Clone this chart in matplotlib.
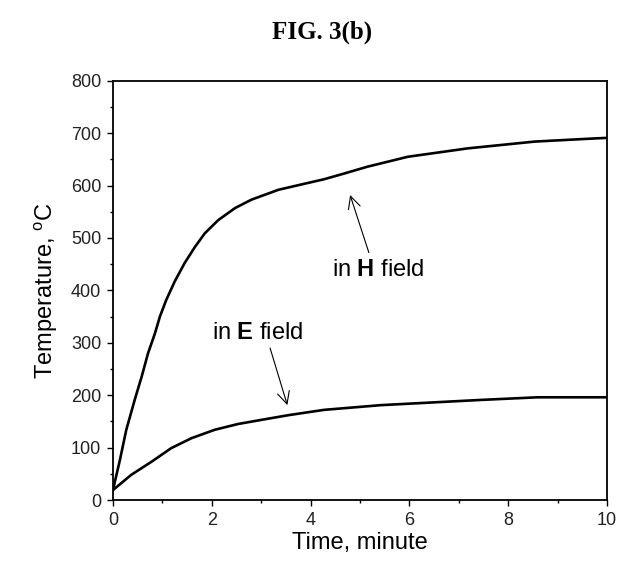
import matplotlib
matplotlib.use("Agg")
import matplotlib.pyplot as plt
from matplotlib.ticker import MultipleLocator

plt.rcParams['font.family'] = ['Liberation Sans', 'DejaVu Sans']
plt.rcParams['mathtext.fontset'] = 'custom'
plt.rcParams['mathtext.rm'] = 'Liberation Sans'
plt.rcParams['mathtext.bf'] = 'Liberation Sans:bold'

# ---- data ----
h_time = [0, 0.14, 0.27, 0.44, 0.58, 0.71, 0.85, 0.95, 1.08, 1.25, 1.45, 1.66,
          1.86, 2.13, 2.47, 2.80, 3.35, 3.90, 4.27, 4.68, 5.15, 5.97, 7.18,
          8.54, 9.76, 10]
h_temp = [19, 76, 134, 191, 235, 280, 318, 350, 382, 417, 452, 483,
          509, 534, 557, 573, 592, 604, 612, 623, 636, 655, 671,
          684, 690, 691]

e_time = [0, 0.37, 0.78, 1.18, 1.59, 2.06, 2.53, 3.07, 3.56, 4.27, 5.42,
          7.45, 8.6, 10]
e_temp = [19, 48, 73, 99, 118, 134, 145, 154, 162, 172, 181,
          191, 196, 196]

x_ticks = [0, 2, 4, 6, 8, 10]
y_ticks = [0, 100, 200, 300, 400, 500, 600, 700, 800]

fig = plt.figure(figsize=(6.31, 5.70), dpi=100)
ax = fig.add_axes([0.179, 0.1228, 0.783, 0.7355])

ax.plot(h_time, h_temp, color='black', lw=1.9, solid_joinstyle='round')
ax.plot(e_time, e_temp, color='black', lw=1.9, solid_joinstyle='round')

ax.set_xlim(0, 10)
ax.set_ylim(0, 800)
ax.set_xticks(x_ticks)
ax.set_yticks(y_ticks)
ax.xaxis.set_minor_locator(MultipleLocator(1))
ax.yaxis.set_minor_locator(MultipleLocator(50))
ax.tick_params(which='major', direction='out', length=4.5, width=1.0,
               labelsize=13, labelcolor='#222222', pad=4)
ax.tick_params(which='minor', direction='out', length=2.5, width=1.0)
ax.tick_params(top=False, right=False)
for sp in ax.spines.values():
    sp.set_linewidth(1.3)

ax.set_xlabel('Time, minute', fontsize=17, labelpad=2)
ax.set_ylabel('Temperature, $^\\mathregular{o}$C', fontsize=17, labelpad=8)

# annotations
ax.annotate('', xy=(4.80, 582), xytext=(5.18, 472),
            arrowprops=dict(arrowstyle='->', lw=0.8, color='black',
                            mutation_scale=22, shrinkA=0, shrinkB=0))
ax.text(5.36, 439, 'in $\\mathbf{H}$ field', fontsize=17, ha='center', va='center')

ax.annotate('', xy=(3.53, 181), xytext=(3.18, 290),
            arrowprops=dict(arrowstyle='->', lw=0.8, color='black',
                            mutation_scale=22, shrinkA=0, shrinkB=0))
ax.text(2.92, 319, 'in $\\mathbf{E}$ field', fontsize=17, ha='center', va='center')

fig.text(0.511, 0.944, 'FIG. 3(b)', fontsize=18, fontweight='bold',
         family=['Liberation Serif', 'DejaVu Serif'], ha='center', va='center')

fig.savefig('out.png', dpi=100)
